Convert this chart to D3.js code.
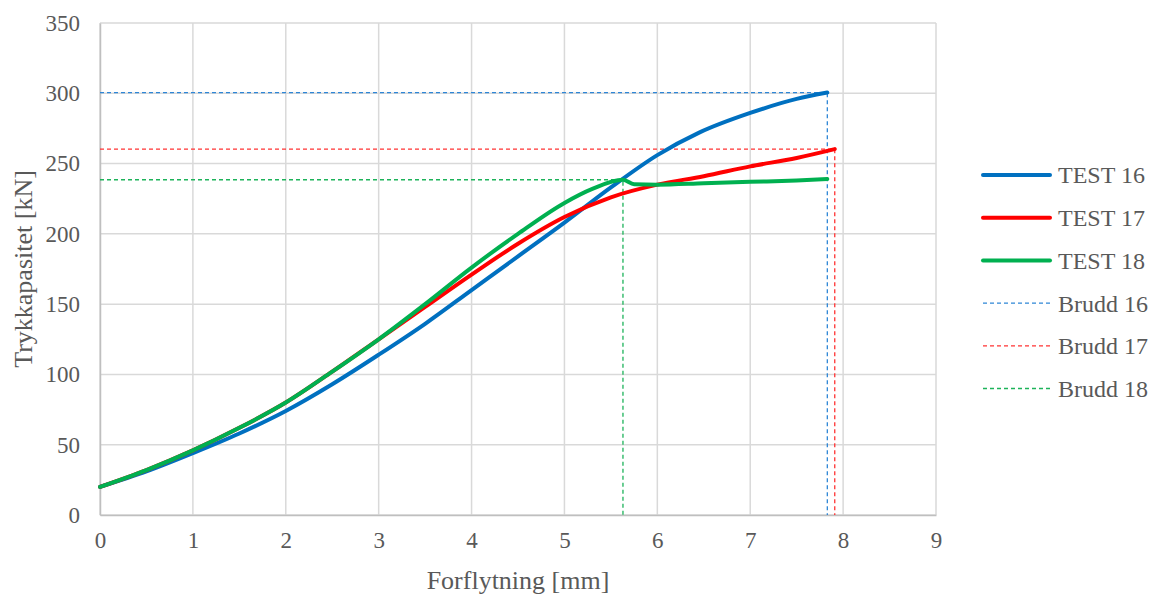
<!DOCTYPE html>
<html>
<head>
<meta charset="utf-8">
<script src="https://cdn.jsdelivr.net/npm/d3@7"></script>
<style>
html,body{margin:0;padding:0;background:#fff;}
svg{display:block;}
text{font-family:"Liberation Serif","Times New Roman",serif;fill:#595959;}
</style>
</head>
<body>
<svg id="chart" width="1152" height="596"></svg>
<script>
// Data (displacement mm, capacity kN)
const test16X = [0, 0.5, 1, 1.5, 2, 2.5, 3, 3.5, 4, 4.5, 5, 5.5, 6, 6.45, 7, 7.5, 7.83];
const test16Y = [20, 31, 44, 58, 74, 93, 114, 136, 160, 184, 208, 233, 256, 272, 286, 296, 300.5];
const test17X = [0, 0.5, 1, 1.5, 2, 2.5, 3, 3.5, 4, 4.5, 5, 5.5, 6, 6.5, 7, 7.5, 7.91];
const test17Y = [20, 32, 46, 62, 80, 102, 125, 148, 171, 193, 212, 226, 235, 241, 248, 254, 260.3];
const test18X = [0, 0.5, 1, 1.5, 2, 2.5, 3, 3.5, 4, 4.5, 5, 5.3, 5.63, 5.75, 6, 6.5, 7, 7.5, 7.83];
const test18Y = [20, 32, 46, 62, 80, 102, 125, 150, 176, 200, 222, 232, 238.5, 235.3, 235, 236, 237, 238, 239];
const brudd = [
  {name: "Brudd 16", x: 7.83, y: 300.5, color: "#2E86D6"},
  {name: "Brudd 17", x: 7.91, y: 260.3, color: "#FF3333"},
  {name: "Brudd 18", x: 5.63, y: 238.5, color: "#1DB35A"}
];
const seriesNames = ["TEST 16", "TEST 17", "TEST 18"];
const seriesColors = ["#0070C0", "#FF0000", "#00B050"];
const xTicks = [0, 1, 2, 3, 4, 5, 6, 7, 8, 9];
const yTicks = [0, 50, 100, 150, 200, 250, 300, 350];

const svg = d3.select("#chart");
const pL = 100, pR = 936, pT = 23, pB = 515;
const x = d3.scaleLinear().domain([0, 9]).range([pL, pR]);
const y = d3.scaleLinear().domain([0, 350]).range([pB, pT]);
const fsTick = 23, fsTitle = 26, fsLegend = 24;

// gridlines
svg.append("g").selectAll("line").data(xTicks).join("line")
  .attr("x1", d => x(d)).attr("x2", d => x(d)).attr("y1", pT).attr("y2", pB)
  .attr("stroke", "#d9d9d9").attr("stroke-width", 1.5);
svg.append("g").selectAll("line").data(yTicks).join("line")
  .attr("x1", pL).attr("x2", pR).attr("y1", d => y(d)).attr("y2", d => y(d))
  .attr("stroke", "#d9d9d9").attr("stroke-width", 1.5);

// axes (tick labels only)
const xAxis = svg.append("g").attr("transform", `translate(0,${pB})`)
  .call(d3.axisBottom(x).tickValues(xTicks).tickSize(0).tickPadding(17).tickFormat(d3.format("d")));
xAxis.select(".domain").attr("stroke", "#bfbfbf").attr("stroke-width", 1.5);
xAxis.selectAll("text").style("font-size", fsTick + "px").attr("fill", "#595959").style("font-family", "Liberation Serif");

const yAxis = svg.append("g").attr("transform", `translate(${pL},0)`)
  .call(d3.axisLeft(y).tickValues(yTicks).tickSize(0).tickPadding(20).tickFormat(d3.format("d")));
yAxis.select(".domain").attr("stroke", "#bfbfbf").attr("stroke-width", 1.5);
yAxis.selectAll("text").style("font-size", fsTick + "px").attr("fill", "#595959").style("font-family", "Liberation Serif");

// axis titles
svg.append("text").attr("x", (pL + pR) / 2).attr("y", 589).attr("text-anchor", "middle")
  .style("font-size", fsTitle + "px").text("Forflytning [mm]");
svg.append("text").attr("transform", `translate(32,${(pT + pB) / 2}) rotate(-90)`).attr("text-anchor", "middle")
  .style("font-size", fsTitle + "px").text("Trykkapasitet [kN]");

// brudd dashed lines
brudd.forEach(b => {
  svg.append("path")
    .attr("d", `M${x(0)},${y(b.y)} L${x(b.x)},${y(b.y)} L${x(b.x)},${y(0)}`)
    .attr("fill", "none").attr("stroke", b.color).attr("stroke-width", 1.3)
    .attr("stroke-dasharray", "4,3");
});

// series lines
const line = d3.line().x(d => x(d[0])).y(d => y(d[1])).curve(d3.curveMonotoneX);
const seriesData = [
  d3.zip(test16X, test16Y),
  d3.zip(test17X, test17Y),
  d3.zip(test18X, test18Y)
];
seriesData.forEach((s, i) => {
  svg.append("path").attr("d", line(s)).attr("fill", "none")
    .attr("stroke", seriesColors[i]).attr("stroke-width", 4)
    .attr("stroke-linejoin", "round").attr("stroke-linecap", "round");
});

// legend
const legendItems = [
  ...seriesNames.map((n, i) => ({name: n, color: seriesColors[i], dashed: false})),
  ...brudd.map(b => ({name: b.name, color: b.color, dashed: true}))
];
const lg = svg.append("g");
legendItems.forEach((it, i) => {
  const yy = 175 + i * 42.7;
  lg.append("line").attr("x1", 983).attr("x2", 1050).attr("y1", yy).attr("y2", yy)
    .attr("stroke", it.color).attr("stroke-width", it.dashed ? 1.3 : 4)
    .attr("stroke-linecap", it.dashed ? "butt" : "round")
    .attr("stroke-dasharray", it.dashed ? "4,3" : null);
  lg.append("text").attr("x", 1058).attr("y", yy).attr("dy", "0.35em")
    .style("font-size", fsLegend + "px").text(it.name);
});
</script>
</body>
</html>
